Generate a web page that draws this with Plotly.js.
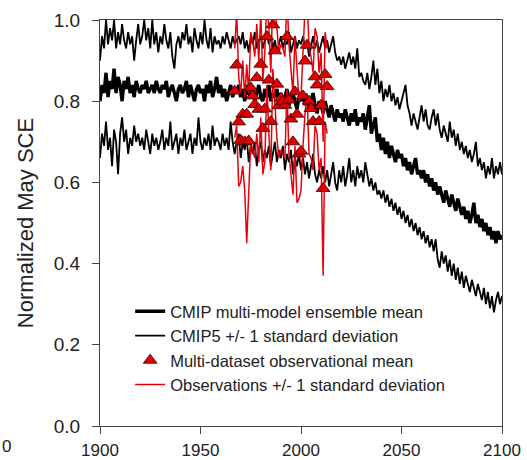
<!DOCTYPE html>
<html>
<head>
<meta charset="utf-8">
<script src="https://cdn.plot.ly/plotly-3.0.1.min.js"></script>
<style>html,body{margin:0;padding:0;background:#fff;}#chart{width:527px;height:460px;}</style>
</head>
<body>
<div id="chart"></div>
<script>
// ---- Data ----
const modelStartYear = 1900;
const modelMean = [
0.80,0.84,0.82,0.87,0.81,0.85,0.83,0.88,0.82,0.86,
0.84,0.80,0.85,0.83,0.86,0.82,0.84,0.81,0.85,0.83,
0.82,0.84,0.83,0.85,0.82,0.83,0.84,0.82,0.85,0.83,
0.82,0.84,0.83,0.85,0.81,0.83,0.84,0.82,0.80,0.83,
0.84,0.82,0.83,0.85,0.81,0.84,0.82,0.80,0.83,0.84,
0.82,0.83,0.80,0.84,0.82,0.85,0.81,0.83,0.86,0.82,
0.84,0.81,0.83,0.80,0.82,0.84,0.81,0.83,0.82,0.84,
0.81,0.83,0.80,0.84,0.82,0.81,0.83,0.80,0.82,0.84,
0.81,0.80,0.83,0.81,0.84,0.80,0.82,0.81,0.83,0.80,
0.82,0.80,0.81,0.83,0.79,0.81,0.82,0.80,0.78,0.81,
0.80,0.82,0.79,0.81,0.78,0.80,0.82,0.79,0.77,0.80,
0.79,0.77,0.80,0.78,0.76,0.79,0.77,0.75,0.78,0.76,
0.77,0.75,0.78,0.76,0.74,0.77,0.75,0.78,0.74,0.76,
0.75,0.77,0.73,0.76,0.79,0.72,0.74,0.76,0.70,0.72,
0.68,0.71,0.67,0.70,0.66,0.69,0.67,0.65,0.68,0.66,
0.67,0.64,0.66,0.63,0.65,0.62,0.64,0.66,0.62,0.63,
0.61,0.63,0.60,0.62,0.59,0.61,0.58,0.60,0.57,0.59,
0.57,0.55,0.58,0.56,0.54,0.57,0.55,0.53,0.56,0.54,
0.52,0.54,0.51,0.53,0.50,0.52,0.55,0.50,0.52,0.49,
0.51,0.48,0.50,0.47,0.49,0.46,0.48,0.45,0.48,0.46,
0.47];
const modelUpper = [
0.90,0.96,0.93,1.00,0.94,0.98,0.95,1.00,0.93,0.97,
0.94,0.99,0.95,0.93,0.97,0.94,0.96,0.90,0.95,0.99,
0.94,0.96,1.00,0.95,0.98,0.93,1.00,0.94,0.97,0.92,
0.96,0.94,0.99,0.95,0.93,0.97,0.91,0.88,0.94,0.96,
0.93,0.97,0.95,0.99,0.94,0.96,0.92,0.98,0.95,0.93,
0.97,0.94,1.00,0.95,0.93,0.98,0.92,0.96,0.94,0.95,
0.93,0.96,0.94,0.97,0.95,0.93,0.96,0.94,0.95,0.96,
0.94,0.97,0.93,0.95,0.92,0.96,0.94,0.97,0.93,0.95,
0.96,0.93,0.95,0.97,0.94,0.96,0.93,0.95,0.92,0.94,
0.96,0.93,0.95,0.94,0.97,0.92,0.94,0.96,0.93,0.95,
0.94,0.96,0.93,0.95,0.91,0.94,0.96,0.93,0.95,0.92,
0.94,0.96,0.93,0.95,0.92,0.94,0.96,0.92,0.90,0.91,
0.89,0.91,0.88,0.90,0.92,0.89,0.91,0.88,0.93,0.86,
0.87,0.85,0.84,0.87,0.83,0.86,0.90,0.84,0.88,0.82,
0.85,0.80,0.83,0.81,0.84,0.80,0.82,0.79,0.81,0.78,
0.80,0.82,0.84,0.79,0.77,0.74,0.77,0.75,0.73,0.76,
0.79,0.75,0.78,0.74,0.73,0.76,0.78,0.74,0.77,0.73,
0.71,0.74,0.72,0.70,0.75,0.71,0.73,0.69,0.72,0.68,
0.70,0.67,0.69,0.66,0.68,0.65,0.67,0.70,0.64,0.66,
0.63,0.65,0.61,0.64,0.62,0.66,0.61,0.64,0.62,0.65,
0.62];
const modelLower = [
0.66,0.72,0.69,0.75,0.68,0.71,0.64,0.73,0.70,0.62,
0.72,0.76,0.70,0.73,0.67,0.71,0.69,0.74,0.70,0.72,
0.69,0.71,0.68,0.73,0.70,0.67,0.72,0.69,0.71,0.68,
0.70,0.73,0.68,0.71,0.69,0.75,0.68,0.70,0.72,0.67,
0.71,0.69,0.73,0.68,0.70,0.72,0.67,0.71,0.69,0.76,
0.70,0.68,0.71,0.69,0.72,0.68,0.74,0.69,0.71,0.70,
0.68,0.72,0.69,0.71,0.68,0.75,0.70,0.67,0.70,0.72,
0.66,0.70,0.68,0.71,0.65,0.69,0.67,0.70,0.64,0.68,
0.70,0.65,0.68,0.66,0.69,0.64,0.67,0.70,0.65,0.68,
0.66,0.69,0.63,0.67,0.65,0.68,0.62,0.66,0.64,0.67,
0.63,0.66,0.62,0.65,0.61,0.64,0.67,0.62,0.60,0.63,
0.61,0.64,0.60,0.63,0.59,0.62,0.65,0.60,0.58,0.63,
0.60,0.64,0.59,0.62,0.66,0.60,0.63,0.59,0.64,0.61,
0.63,0.60,0.65,0.62,0.59,0.61,0.58,0.60,0.57,0.58,
0.56,0.58,0.55,0.57,0.54,0.56,0.53,0.55,0.52,0.54,
0.51,0.53,0.50,0.52,0.49,0.51,0.48,0.50,0.47,0.49,
0.46,0.48,0.45,0.47,0.44,0.46,0.43,0.46,0.41,0.39,
0.43,0.40,0.42,0.38,0.41,0.37,0.40,0.36,0.39,0.35,
0.38,0.34,0.37,0.35,0.33,0.36,0.34,0.32,0.35,0.33,
0.31,0.34,0.30,0.33,0.29,0.32,0.28,0.31,0.33,0.30,
0.32];

const obsStartYear = 1967;
const obsMean = [
0.825,0.889,0.749,0.704,0.768,0.700,0.768,0.702,0.833,0.813,
0.792,0.858,0.780,0.891,0.733,0.781,0.959,0.852,0.750,0.988,
0.924,0.842,0.789,0.807,0.800,0.790,0.959,0.803,0.756,0.700,
0.823,0.768,0.670,0.677,0.813,0.899,0.938,0.800,0.782,0.750,
0.860,0.840,0.750,0.790,0.585,0.866,0.836];
const obsUpper = [
0.93,1.02,0.86,0.82,0.90,0.81,0.89,0.82,0.97,0.95,
0.91,0.99,0.90,1.02,0.85,0.92,1.05,0.98,0.87,1.08,
1.04,0.97,0.92,0.94,0.93,0.91,1.06,0.94,0.88,0.82,
0.96,0.89,0.80,0.81,0.95,1.03,1.06,0.93,0.91,0.87,
0.98,0.96,0.87,0.92,0.70,0.97,0.93];
const obsLower = [
0.71,0.74,0.59,0.60,0.64,0.58,0.45,0.60,0.70,0.68,
0.66,0.72,0.65,0.76,0.62,0.65,0.84,0.72,0.63,0.88,
0.80,0.71,0.66,0.68,0.67,0.66,0.83,0.67,0.62,0.57,
0.69,0.55,0.56,0.58,0.69,0.77,0.82,0.67,0.66,0.63,
0.74,0.72,0.63,0.66,0.37,0.75,0.72];

const legendNames = [
  'CMIP multi-model ensemble mean',
  'CMIP5 +/- 1 standard deviation',
  'Multi-dataset observational mean',
  'Observations +/- 1 standard deviation'
];
const xTicks = [1900, 1950, 2000, 2050, 2100];
const yTicks = [0.0, 0.2, 0.4, 0.6, 0.8, 1.0];

// ---- Build ----
const modelYears = modelMean.map((_, i) => modelStartYear + i);
const obsYears = obsMean.map((_, i) => obsStartYear + i);
const FONT = 'Liberation Sans, Arial, sans-serif';

const traces = [
  {x: modelYears, y: modelUpper, mode: 'lines', name: legendNames[1], legendrank: 2,
   line: {color: '#000', width: 1.8}},
  {x: modelYears, y: modelLower, mode: 'lines', name: legendNames[1], showlegend: false,
   line: {color: '#000', width: 1.8}},
  {x: modelYears, y: modelMean, mode: 'lines', name: legendNames[0], legendrank: 1,
   line: {color: '#000', width: 3.4}},
  {x: obsYears, y: obsUpper, mode: 'lines', name: legendNames[3], legendrank: 4,
   line: {color: '#e8000b', width: 1.5}},
  {x: obsYears, y: obsLower, mode: 'lines', name: legendNames[3], showlegend: false,
   line: {color: '#e8000b', width: 1.5}},
  {x: obsYears, y: obsMean, mode: 'markers', name: legendNames[2], legendrank: 3,
   marker: {symbol: 'triangle-up', size: 12, color: '#e00000', line: {color: '#300', width: 0.8}}}
];

const layout = {
  width: 527, height: 460,
  margin: {l: 100, r: 25, t: 20, b: 34},
  paper_bgcolor: '#fff', plot_bgcolor: '#fff',
  font: {family: FONT, size: 18, color: '#222'},
  showlegend: true,
  legend: {x: 0.075, y: 0.325, xanchor: 'left', yanchor: 'top',
    bgcolor: 'rgba(0,0,0,0)', font: {family: FONT, size: 16.5, color: '#222'},
    tracegroupgap: 0, itemwidth: 30},
  xaxis: {range: [1900, 2100], tickvals: xTicks, ticktext: xTicks.map(String),
    showgrid: false, zeroline: false, showline: true, linecolor: '#444', linewidth: 1,
    mirror: true, ticks: 'outside', ticklen: 7, tickcolor: '#444', ticklabelstandoff: 2,
    tickfont: {family: FONT, size: 17, color: '#222'}},
  yaxis: {range: [0, 1.0], tickvals: yTicks, ticktext: yTicks.map(v => v.toFixed(1)),
    showgrid: false, zeroline: false, showline: true, linecolor: '#444', linewidth: 1,
    mirror: true, ticks: 'outside', ticklen: 7, tickcolor: '#444', ticklabelstandoff: 8,
    tickfont: {family: FONT, size: 19, color: '#222'},
    title: {text: 'Normalized May SCE', font: {family: FONT, size: 22, color: '#222'}, standoff: 14}},
  annotations: [
    {xref: 'paper', yref: 'paper', x: -0.249, y: -0.05, xanchor: 'left', yanchor: 'middle',
     text: '0', showarrow: false, font: {family: FONT, size: 17, color: '#222'}}
  ]
};

Plotly.newPlot('chart', traces, layout, {displayModeBar: false, staticPlot: true});
</script>
</body>
</html>
